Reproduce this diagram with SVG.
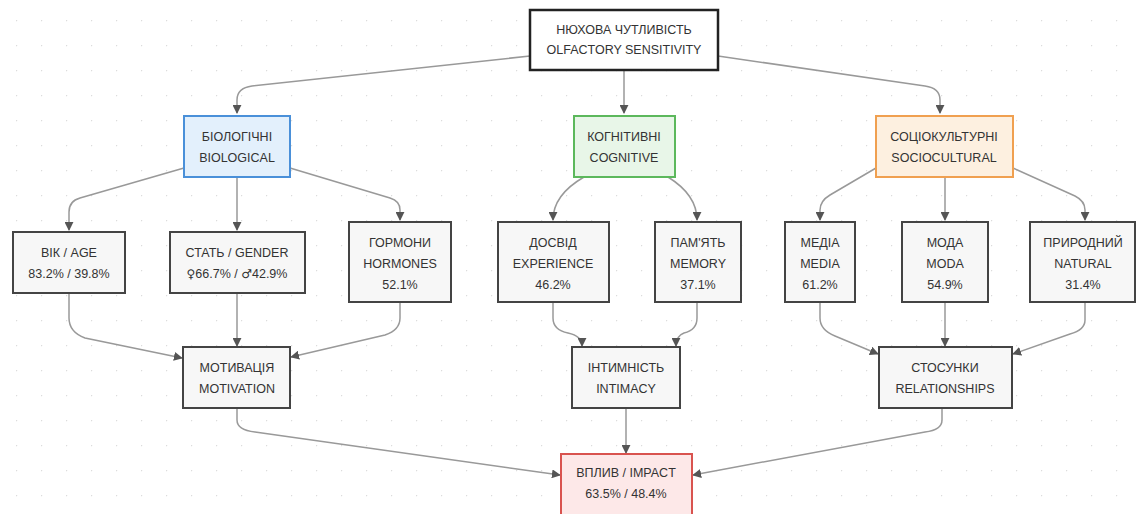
<svg xmlns="http://www.w3.org/2000/svg" width="1137" height="514" viewBox="0 0 1137 514">
<defs>
<pattern id="dots" x="16" y="20" width="25" height="25" patternUnits="userSpaceOnUse">
<circle cx="0" cy="0" r="1.4" fill="#dcdcdc"/>
</pattern>
<marker id="arr" viewBox="0 0 10 10" refX="9" refY="5" markerWidth="9" markerHeight="9" markerUnits="userSpaceOnUse" orient="auto">
<path d="M0,0 L10,5 L0,10 z" fill="#555"/>
</marker>
<style>
.n{fill:#f7f7f7;stroke:#444;stroke-width:2}
.top{fill:#fff;stroke:#222;stroke-width:2.5}
.bio{fill:#e3f0fc;stroke:#4a90d9;stroke-width:2}
.cog{fill:#e8f6e8;stroke:#5cb85c;stroke-width:2}
.soc{fill:#fdf0e0;stroke:#f0a050;stroke-width:2}
.imp{fill:#fde8e8;stroke:#d9534f;stroke-width:2}
text{font-family:"Liberation Sans",Arial,sans-serif;font-size:12.5px;fill:#333;text-anchor:middle}
.sym{font-family:"DejaVu Sans",sans-serif;font-size:12px}
.c path{fill:none;stroke:#999;stroke-width:1.5;marker-end:url(#arr)}
</style>
</defs>
<rect width="1137" height="514" fill="#fff"/>
<rect width="1137" height="514" fill="url(#dots)"/>
<g class="c" id="connectors">
<path d="M530,56 L252,86 Q237,88 237,100 L237,113"/>
<path d="M624,70 L624,113"/>
<path d="M718,56 L925,86 Q940,88 940,100 L940,113"/>
<path d="M184,168 L80,198 Q69,201 69,212 L69,230"/>
<path d="M237,177 L237,230"/>
<path d="M290,168 L390,198 Q400,201 400,210 L400,220"/>
<path d="M584,177 Q553,195 553,220"/>
<path d="M668,177 Q697,195 697,220"/>
<path d="M876,168 L830,195 Q820,201 820,210 L820,220"/>
<path d="M945,177 L945,220"/>
<path d="M1013,168 L1075,196 Q1085,201 1085,210 L1085,220"/>
<path d="M69,293 L69,318 Q69,332 85,338 L182,358"/>
<path d="M237,293 L237,346"/>
<path d="M400,302 L400,318 Q400,330 385,335 L291,357"/>
<path d="M553,302 L553,318 Q553,330 568,333 Q582,336 582,346"/>
<path d="M697,302 L697,318 Q697,330 684,333 Q676,336 676,346"/>
<path d="M820,302 L820,318 Q820,330 835,336 L878,354"/>
<path d="M945,302 L945,346"/>
<path d="M1085,302 L1085,320 Q1085,330 1070,334 L1013,354"/>
<path d="M237,408 L237,420 Q237,430 255,432 L560,475"/>
<path d="M626,408 L626,453"/>
<path d="M942,408 L942,420 Q942,430 925,432 L693,475"/>
</g>
<g id="n-top"><rect class="top" x="530" y="10" width="188" height="60"/><text x="624" y="34">НЮХОВА ЧУТЛИВІСТЬ</text><text x="624" y="54">OLFACTORY SENSITIVITY</text></g>
<g id="n-bio"><rect class="bio" x="184" y="116" width="106" height="61"/><text x="237" y="141">БІОЛОГІЧНІ</text><text x="237" y="162">BIOLOGICAL</text></g>
<g id="n-cog"><rect class="cog" x="574" y="116" width="101" height="61"/><text x="624" y="141">КОГНІТИВНІ</text><text x="624" y="162">COGNITIVE</text></g>
<g id="n-soc"><rect class="soc" x="876" y="116" width="137" height="61"/><text x="944" y="141">СОЦІОКУЛЬТУРНІ</text><text x="944" y="162">SOCIOCULTURAL</text></g>
<g id="n-age"><rect class="n" x="13" y="232" width="112" height="61"/><text x="69" y="257">ВІК / AGE</text><text x="69" y="278">83.2% / 39.8%</text></g>
<g id="n-gender"><rect class="n" x="170" y="232" width="135" height="61"/><text x="237" y="257">СТАТЬ / GENDER</text><text x="237" y="278"><tspan class="sym">♀</tspan>66.7% / <tspan class="sym">♂</tspan>42.9%</text></g>
<g id="n-horm"><rect class="n" x="349" y="222" width="102" height="80"/><text x="400" y="247">ГОРМОНИ</text><text x="400" y="268">HORMONES</text><text x="400" y="289">52.1%</text></g>
<g id="n-exp"><rect class="n" x="498" y="222" width="111" height="80"/><text x="553" y="247">ДОСВІД</text><text x="553" y="268">EXPERIENCE</text><text x="553" y="289">46.2%</text></g>
<g id="n-mem"><rect class="n" x="655" y="222" width="86" height="80"/><text x="698" y="247">ПАМ'ЯТЬ</text><text x="698" y="268">MEMORY</text><text x="698" y="289">37.1%</text></g>
<g id="n-media"><rect class="n" x="785" y="222" width="70" height="80"/><text x="820" y="247">МЕДІА</text><text x="820" y="268">MEDIA</text><text x="820" y="289">61.2%</text></g>
<g id="n-moda"><rect class="n" x="902" y="222" width="86" height="80"/><text x="945" y="247">МОДА</text><text x="945" y="268">MODA</text><text x="945" y="289">54.9%</text></g>
<g id="n-nat"><rect class="n" x="1030" y="222" width="105" height="80"/><text x="1083" y="247">ПРИРОДНИЙ</text><text x="1083" y="268">NATURAL</text><text x="1083" y="289">31.4%</text></g>
<g id="n-mot"><rect class="n" x="183" y="347" width="107" height="61"/><text x="237" y="372">МОТИВАЦІЯ</text><text x="237" y="393">MOTIVATION</text></g>
<g id="n-int"><rect class="n" x="572" y="347" width="108" height="61"/><text x="626" y="372">ІНТИМНІСТЬ</text><text x="626" y="393">INTIMACY</text></g>
<g id="n-rel"><rect class="n" x="879" y="347" width="133" height="61"/><text x="945" y="372">СТОСУНКИ</text><text x="945" y="393">RELATIONSHIPS</text></g>
<g id="n-imp"><rect class="imp" x="561" y="454" width="131" height="62"/><text x="626" y="477">ВПЛИВ / IMPACT</text><text x="626" y="498">63.5% / 48.4%</text></g>
</svg>
